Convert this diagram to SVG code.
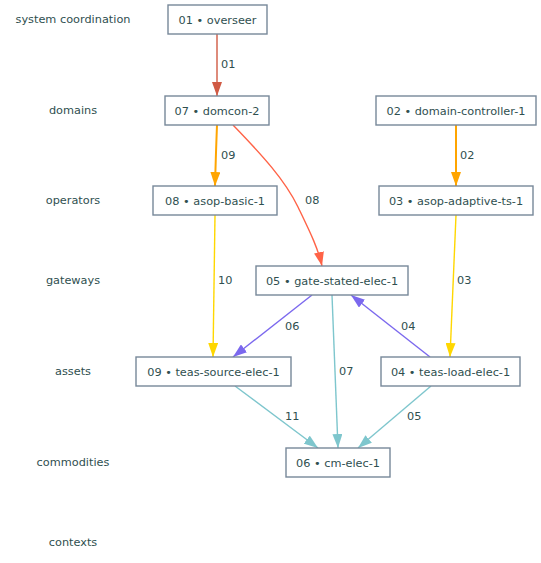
<svg xmlns="http://www.w3.org/2000/svg" width="541" height="563" viewBox="0 0 541 563">
<style>
text{font-family:"DejaVu Sans","Liberation Sans",sans-serif;font-size:11.3px;fill:#2f4f4f}
.lane{text-anchor:middle}
.nt{text-anchor:middle}
.box{fill:#fff;stroke:#778899;stroke-width:1.4}
.e{fill:none}
</style>
<defs>
<marker id="mRed" markerUnits="userSpaceOnUse" markerWidth="14" markerHeight="10" refX="14" refY="5" orient="auto"><path d="M0,0L14,5L0,10z" fill="#d05a44"/></marker>
<marker id="mOrange" markerUnits="userSpaceOnUse" markerWidth="14" markerHeight="10" refX="14" refY="5" orient="auto"><path d="M0,0L14,5L0,10z" fill="#ffa500"/></marker>
<marker id="mTomato" markerUnits="userSpaceOnUse" markerWidth="14" markerHeight="10" refX="14" refY="5" orient="auto"><path d="M0,0L14,5L0,10z" fill="#ff6347"/></marker>
<marker id="mGold" markerUnits="userSpaceOnUse" markerWidth="14" markerHeight="10" refX="14" refY="5" orient="auto"><path d="M0,0L14,5L0,10z" fill="#ffd700"/></marker>
<marker id="mPurple" markerUnits="userSpaceOnUse" markerWidth="14" markerHeight="10" refX="14" refY="5" orient="auto"><path d="M0,0L14,5L0,10z" fill="#7b68ee"/></marker>
<marker id="mTeal" markerUnits="userSpaceOnUse" markerWidth="14" markerHeight="10" refX="14" refY="5" orient="auto"><path d="M0,0L14,5L0,10z" fill="#7ec6cd"/></marker>
</defs>
<g id="lanes">
<text class="lane" x="73" y="23">system coordination</text>
<text class="lane" x="73" y="114">domains</text>
<text class="lane" x="73" y="204">operators</text>
<text class="lane" x="73" y="284">gateways</text>
<text class="lane" x="73" y="375">assets</text>
<text class="lane" x="73" y="466">commodities</text>
<text class="lane" x="73" y="546">contexts</text>
</g>
<g id="connectors">
<path class="e" d="M217,34 L217,96" stroke="#d05a44" stroke-width="1.4" marker-end="url(#mRed)"/>
<text x="221" y="68">01</text>
<path class="e" d="M217,125 Q216,150 215,186" stroke="#ffa500" stroke-width="2" marker-end="url(#mOrange)"/>
<text x="221" y="159">09</text>
<path class="e" d="M233,125 C262,155 285,180 298,207 C310,232 318,248 322,266" stroke="#ff6347" stroke-width="1.4" marker-end="url(#mTomato)"/>
<text x="305" y="204">08</text>
<path class="e" d="M456,125 L456,186" stroke="#ffa500" stroke-width="2" marker-end="url(#mOrange)"/>
<text x="460" y="159">02</text>
<path class="e" d="M215,215 L213,357" stroke="#ffd700" stroke-width="1.4" marker-end="url(#mGold)"/>
<text x="218" y="284">10</text>
<path class="e" d="M456,215 L450,357" stroke="#ffd700" stroke-width="1.4" marker-end="url(#mGold)"/>
<text x="457" y="284">03</text>
<path class="e" d="M312,295 L233,357" stroke="#7b68ee" stroke-width="1.4" marker-end="url(#mPurple)"/>
<text x="285" y="330">06</text>
<path class="e" d="M430,357 L351,295" stroke="#7b68ee" stroke-width="1.4" marker-end="url(#mPurple)"/>
<text x="401" y="330">04</text>
<path class="e" d="M332,295 L338,448" stroke="#7ec6cd" stroke-width="1.4" marker-end="url(#mTeal)"/>
<text x="339" y="375">07</text>
<path class="e" d="M235,386 L318,448" stroke="#7ec6cd" stroke-width="1.4" marker-end="url(#mTeal)"/>
<text x="285" y="420">11</text>
<path class="e" d="M431,386 L358,448" stroke="#7ec6cd" stroke-width="1.4" marker-end="url(#mTeal)"/>
<text x="407" y="420">05</text>
</g>
<g id="n01"><rect class="box" x="168" y="5" width="99" height="29"/><text class="nt" x="217.5" y="23.5">01 • overseer</text></g>
<g id="n07"><rect class="box" x="165" y="96" width="104" height="29"/><text class="nt" x="217" y="114.5">07 • domcon-2</text></g>
<g id="n02"><rect class="box" x="376" y="96" width="160" height="29"/><text class="nt" x="456" y="114.5">02 • domain-controller-1</text></g>
<g id="n08"><rect class="box" x="153" y="186" width="124" height="29"/><text class="nt" x="215" y="204.5">08 • asop-basic-1</text></g>
<g id="n03"><rect class="box" x="379" y="186" width="154" height="29"/><text class="nt" x="456" y="204.5">03 • asop-adaptive-ts-1</text></g>
<g id="n05"><rect class="box" x="256" y="266" width="152" height="29"/><text class="nt" x="332" y="284.5">05 • gate-stated-elec-1</text></g>
<g id="n09"><rect class="box" x="136" y="357" width="155" height="29"/><text class="nt" x="213.5" y="375.5">09 • teas-source-elec-1</text></g>
<g id="n04"><rect class="box" x="381" y="357" width="139" height="29"/><text class="nt" x="450.5" y="375.5">04 • teas-load-elec-1</text></g>
<g id="n06"><rect class="box" x="286" y="448" width="104" height="29"/><text class="nt" x="338" y="466.5">06 • cm-elec-1</text></g>
</svg>
